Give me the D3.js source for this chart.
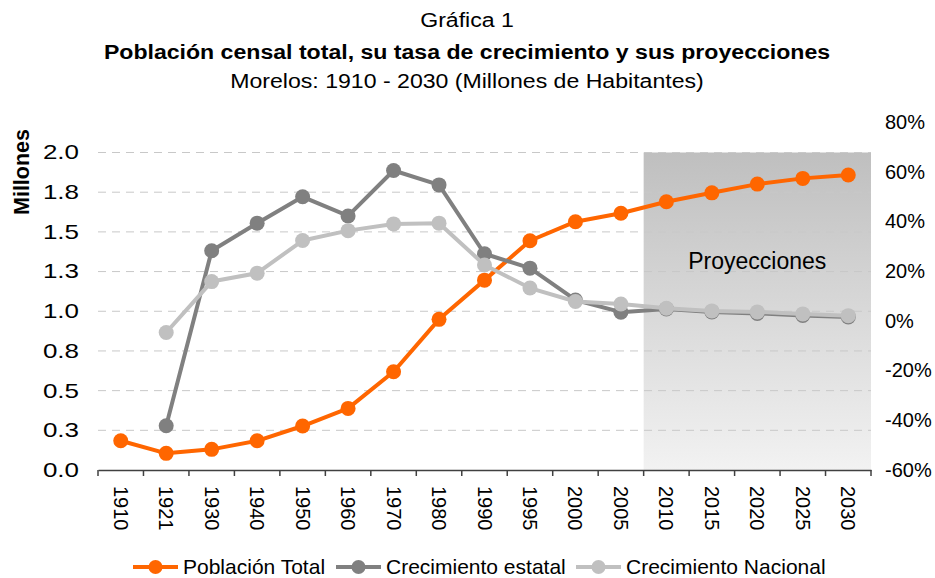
<!DOCTYPE html>
<html>
<head>
<meta charset="utf-8">
<script src="https://cdn.jsdelivr.net/npm/d3@7"></script>
<style>
  body { margin: 0; background: #fff; }
  svg { font-family: "Liberation Sans", Arial, sans-serif; }
  .grid line { stroke: #c8c8c8; stroke-dasharray: 8,6; stroke-width: 1; }
  .axis text { font-size: 20px; fill: #000; }
</style>
</head>
<body>
<div id="chart"></div>
<script>
const width = 935,
      height = 578,
      margin = {top: 152.5, right: 64, bottom: 108, left: 98};

const years = ['1910', '1921', '1930', '1940', '1950', '1960', '1970', '1980', '1990',
               '1995', '2000', '2005', '2010', '2015', '2020', '2025', '2030'];

// millones de habitantes
const poblacion = [0.184, 0.105, 0.130, 0.184, 0.277, 0.388, 0.619, 0.949, 1.196,
                   1.444, 1.564, 1.617, 1.690, 1.746, 1.801, 1.837, 1.858];

// porcentaje (eje derecho); 1910 sin dato
const crecEstatal = [null, -42.2, 28.2, 39.3, 49.9, 42.2, 60.5, 54.7, 27.0,
                     21.2, 8.4, 3.5, 4.8, 3.6, 3.0, 2.2, 1.6];
const crecNacional = [null, -4.7, 15.8, 19.2, 32.3, 36.3, 39.0, 39.3, 22.5,
                      13.2, 7.8, 6.8, 5.1, 4.0, 3.6, 2.8, 2.1];

const leftTicks = [0, 0.25, 0.5, 0.75, 1, 1.25, 1.5, 1.75, 2];
const leftTickLabels = ['0.0', '0.3', '0.5', '0.8', '1.0', '1.3', '1.5', '1.8', '2.0'];
const rightTicks = [-60, -40, -20, 0, 20, 40, 60, 80];

const projStart = '2010';

const chartWidth = width - margin.left - margin.right,
      chartHeight = height - margin.top - margin.bottom;

const svg = d3.select('#chart').append('svg')
    .attr('width', width)
    .attr('height', height);

// titles (text in the original is a bit wide, so stretch it horizontally)
function title(txt, yPos, bold) {
    svg.append('text')
        .attr('transform', `translate(467, ${yPos}) scale(1.1, 1)`)
        .attr('text-anchor', 'middle')
        .style('font-size', '21px')
        .style('font-weight', bold ? 'bold' : 'normal')
        .text(txt);
}
title('Gráfica 1', 27, false);
title('Población censal total, su tasa de crecimiento y sus proyecciones', 59, true);
title('Morelos: 1910 - 2030 (Millones de Habitantes)', 88, false);

const chart = svg.append('g')
    .attr('transform', `translate(${margin.left}, ${margin.top})`);

let x = d3.scaleBand().domain(years).range([0, chartWidth]);
let y = d3.scaleLinear().domain([0, 2]).range([chartHeight, 0]);
// secondary axis runs above the plot area (80% sits over the top gridline)
let yR = d3.scaleLinear().domain([-60, 80]).range([chartHeight, chartHeight - 348]);

// projection box
const defs = svg.append('defs');
const grad = defs.append('linearGradient').attr('id', 'proj')
    .attr('x1', 0).attr('y1', 0).attr('x2', 0).attr('y2', 1);
grad.append('stop').attr('offset', '0%').attr('stop-color', '#bfbfbf');
grad.append('stop').attr('offset', '100%').attr('stop-color', '#f2f2f2');

chart.append('rect')
    .attr('x', x(projStart))
    .attr('y', 0)
    .attr('width', chartWidth - x(projStart))
    .attr('height', chartHeight)
    .attr('fill', 'url(#proj)');

// gridlines
chart.append('g')
    .attr('class', 'grid')
    .selectAll('line')
    .data(leftTicks.filter(d => d > 0))
    .enter().append('line')
    .attr('x1', 0)
    .attr('x2', chartWidth)
    .attr('y1', d => y(d))
    .attr('y2', d => y(d));

chart.append('text')
    .attr('x', x('2020') + x.bandwidth() / 2)
    .attr('y', y(1.265))
    .attr('text-anchor', 'middle')
    .style('font-size', '23px')
    .text('Proyecciones');

// axes
let yAxis = d3.axisLeft(y)
    .tickValues(leftTicks)
    .tickFormat((d, i) => leftTickLabels[i])
    .tickSize(0);

chart.append('g')
    .attr('class', 'axis axis--y')
    .call(yAxis)
    .call(g => g.select('.domain').remove())
    .call(g => g.selectAll('.tick text')
        .attr('x', -19 / 1.3)
        .attr('transform', 'scale(1.3, 1)'));

let yAxisR = d3.axisRight(yR)
    .tickValues(rightTicks)
    .tickFormat(d => d + '%')
    .tickSize(0)
    .tickPadding(14);

chart.append('g')
    .attr('class', 'axis axis--y2')
    .attr('transform', `translate(${chartWidth}, 0)`)
    .call(yAxisR)
    .call(g => g.select('.domain').remove());

let xAxis = d3.axisBottom(x).tickSize(0);

const gx = chart.append('g')
    .attr('class', 'axis axis--x')
    .attr('transform', `translate(0, ${chartHeight})`)
    .call(xAxis);
gx.select('.domain').attr('stroke', '#404040').attr('stroke-width', 1.5);
gx.selectAll('.tick text')
    .attr('transform', 'rotate(90)')
    .attr('x', 16)
    .attr('y', 0)
    .attr('dy', '0.35em')
    .style('text-anchor', 'start');

// category boundary ticks
gx.append('g')
    .selectAll('line')
    .data(years.concat(['end']))
    .enter().append('line')
    .attr('x1', (d, i) => i < years.length ? x(d) : chartWidth)
    .attr('x2', (d, i) => i < years.length ? x(d) : chartWidth)
    .attr('y1', 0)
    .attr('y2', 6)
    .attr('stroke', '#404040')
    .attr('stroke-width', 1.5);

// series
const series = [
    {name: 'Población Total', values: poblacion, scale: y, color: '#ff6600'},
    {name: 'Crecimiento estatal', values: crecEstatal, scale: yR, color: '#808080'},
    {name: 'Crecimiento Nacional', values: crecNacional, scale: yR, color: '#c0c0c0'}
];

series.forEach(s => {
    const pts = years.map((yr, i) => ({yr: yr, v: s.values[i]})).filter(d => d.v !== null);
    const line = d3.line()
        .x(d => x(d.yr) + x.bandwidth() / 2)
        .y(d => s.scale(d.v));
    chart.append('path')
        .datum(pts)
        .attr('fill', 'none')
        .attr('stroke', s.color)
        .attr('stroke-width', 4)
        .attr('stroke-linejoin', 'round')
        .attr('d', line);
    chart.append('g')
        .selectAll('circle')
        .data(pts)
        .enter().append('circle')
        .attr('cx', d => x(d.yr) + x.bandwidth() / 2)
        .attr('cy', d => s.scale(d.v))
        .attr('r', 7.5)
        .attr('fill', s.color);
});

// y title
svg.append('text')
    .attr('transform', 'translate(28.5, 172) rotate(-90)')
    .attr('text-anchor', 'middle')
    .style('font-size', '21.5px')
    .style('font-weight', 'bold')
    .text('Millones');

// legend
const legendX = [133, 336, 576];
const legend = svg.append('g').attr('transform', 'translate(0, 567)');
series.forEach((s, i) => {
    const g = legend.append('g').attr('transform', `translate(${legendX[i]}, 0)`);
    g.append('line').attr('x1', 0).attr('x2', 45).attr('y1', 0).attr('y2', 0)
        .attr('stroke', s.color).attr('stroke-width', 4);
    g.append('circle').attr('cx', 22.5).attr('cy', 0).attr('r', 7).attr('fill', s.color);
    g.append('text').attr('x', 50).attr('y', 0).attr('dy', '0.35em')
        .style('font-size', '21px').text(s.name);
});
</script>
</body>
</html>
